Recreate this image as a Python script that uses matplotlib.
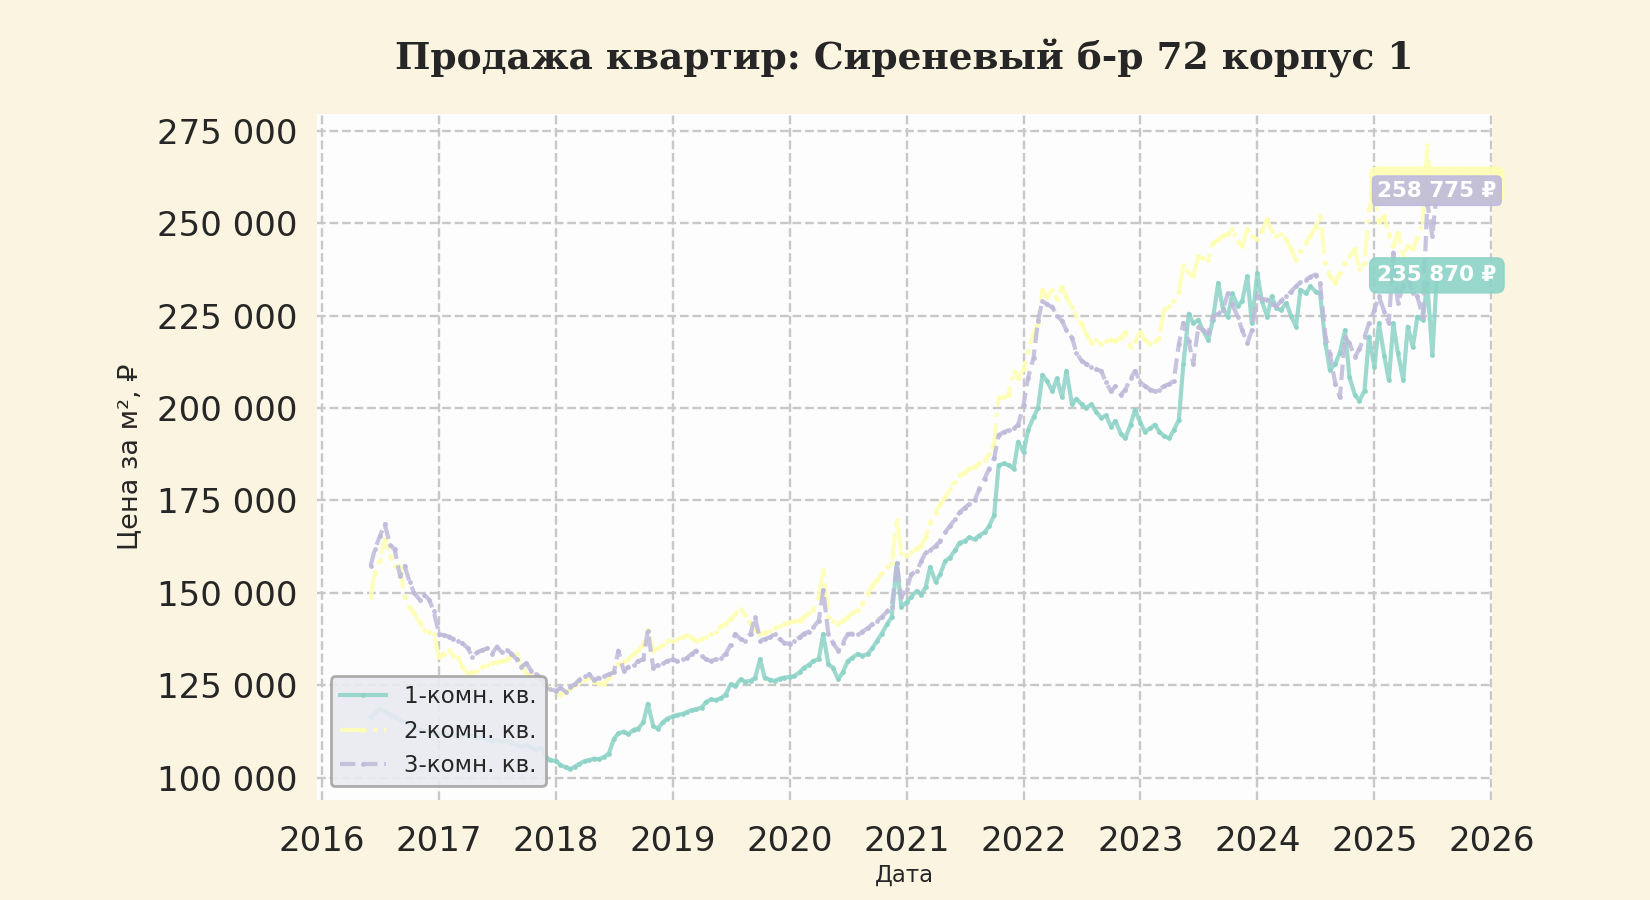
import numpy as np
import pandas as pd
import matplotlib
matplotlib.use('Agg')
import matplotlib.pyplot as plt
import matplotlib.dates as mdates
from matplotlib.ticker import FuncFormatter

# цена за м2, тыс. руб., точки 1-го и 15-го числа каждого месяца
dates = pd.date_range('2016-06-01', periods=220, freq='SMS')

room1 = [
    116.4, 117.5, 118.6, 118.0, 117.0, 116.4, 115.5, 115.0, 114.5, 113.8, 113.0, 112.7, 112.5, 112.0,
    111.8, 112.3, 111.5, 111.8, 111.0, 111.5, 111.8, 111.2, 110.8, 111.0, 110.5, 110.0,
    110.3, 109.8, 110.0, 109.5, 109.0, 108.6, 108.8, 108.2, 107.5, 108.0, 105.5, 104.8,
    104.5, 103.5, 102.8, 102.4, 103.0, 103.8, 104.5, 104.8, 105.2, 105.0, 105.7, 106.5,
    110.5, 112.0, 112.5, 111.8, 113.0, 113.3, 115.0, 120.0, 114.0, 113.3, 115.0, 116.0,
    116.6, 117.0, 117.3, 117.8, 118.3, 118.5, 119.0, 120.5, 121.2, 121.0, 121.6, 122.5,
    125.3, 124.8, 126.6, 126.0, 126.2, 127.0, 132.1, 127.1, 126.5, 126.2, 126.8, 127.1,
    127.3, 127.5, 128.5, 129.8, 130.5, 131.6, 132.1, 138.9, 130.7, 129.8, 126.6, 128.5,
    131.6, 132.5, 133.5, 133.0, 133.5, 135.0, 137.1, 139.0, 141.6, 143.5, 158.0, 146.2,
    147.5, 149.0, 150.5, 149.5, 151.5, 157.0, 153.0, 155.0, 158.6, 159.5, 161.5, 163.6,
    164.0, 165.0, 164.5, 165.5, 166.4, 168.0, 171.0, 184.5, 185.0, 184.5, 183.6, 190.9,
    188.0, 194.0, 197.5, 200.0, 209.0, 207.3, 204.5, 208.0, 203.0, 210.0, 201.0, 202.5,
    201.0, 200.0, 201.0, 199.0, 197.3, 198.0, 195.0, 196.5, 193.0, 191.8, 195.5, 199.5,
    196.0, 193.6, 194.5, 195.5, 193.6, 192.5, 191.8, 194.0, 196.8, 211.8, 225.5, 222.9,
    223.8, 221.0, 218.4, 223.8, 233.8, 227.0, 224.7, 231.0, 227.5, 229.0, 235.6, 222.9,
    236.5, 229.0, 224.7, 230.2, 227.0, 226.5, 228.4, 225.0, 222.0, 232.0, 231.0, 232.9,
    231.5, 231.0, 217.5, 210.2, 212.0, 215.0, 221.0, 208.4, 203.5, 202.0, 204.7, 219.3,
    211.0, 222.9, 214.0, 207.5, 222.9, 215.0, 207.5, 222.0, 216.5, 224.7, 223.8, 233.8, 214.3, 235.87,
]

room2 = [
    149.0, 155.5, 159.0, 164.5, 160.0, 157.3, 157.0, 149.0, 146.0, 144.5, 142.0, 140.0, 139.5, 139.0,
    132.7, 133.5, 134.5, 133.0, 132.7, 130.0, 128.2, 128.5, 129.0, 130.0, 130.5, 131.0,
    131.2, 131.5, 131.8, 133.0, 133.6, 130.5, 128.2, 127.5, 127.0, 126.4, 125.0, 124.0,
    123.6, 122.5, 123.2, 124.0, 125.0, 126.0, 126.5, 127.1, 126.0, 125.5, 125.3, 127.0,
    128.5, 130.7, 131.5, 132.0, 133.5, 134.5, 136.0, 140.0, 134.4, 135.0, 136.0, 137.1,
    137.1, 137.5, 138.0, 138.5, 137.8, 137.1, 137.5, 138.2, 138.9, 139.5, 141.0, 141.6,
    143.0, 144.4, 145.7, 144.0, 141.6, 140.0, 138.9, 139.2, 139.8, 140.5, 141.0, 141.6,
    142.0, 142.3, 142.5, 143.5, 144.5, 145.3, 148.9, 156.2, 143.5, 142.5, 141.6, 142.5,
    143.5, 144.5, 145.3, 147.0, 149.8, 152.0, 153.5, 155.3, 157.0, 158.0, 169.8, 160.7,
    160.0, 161.0, 162.0, 162.7, 165.0, 169.0, 171.5, 174.0, 175.9, 178.0, 180.0, 181.8,
    182.5, 183.6, 184.0, 185.0, 185.9, 187.5, 190.0, 202.7, 203.0, 203.6, 210.0, 208.0,
    210.5, 215.5, 220.0, 222.7, 231.8, 230.0, 231.8, 229.5, 232.7, 230.0, 227.3, 225.0,
    222.7, 220.0, 217.7, 218.5, 217.3, 218.0, 218.5, 218.2, 219.0, 220.5, 216.4, 218.0,
    220.5, 218.5, 217.3, 218.0, 219.0, 226.4, 227.5, 229.0, 231.4, 238.6, 236.5, 235.6,
    241.0, 240.5, 240.0, 244.7, 245.5, 246.5, 247.0, 248.4, 245.0, 243.8, 248.4, 246.5,
    245.6, 248.0, 251.0, 248.0, 246.5, 247.0, 245.6, 243.0, 240.0, 242.5, 244.7, 246.5,
    249.0, 252.0, 239.3, 235.6, 233.8, 236.5, 239.3, 241.0, 242.9, 237.5, 239.3, 253.8,
    258.0, 250.2, 252.0, 247.0, 243.8, 247.4, 241.0, 243.8, 242.9, 246.0, 250.2, 271.0, 255.6, 260.4,
]

room3 = [
    157.3, 162.0, 165.5, 168.6, 163.0, 161.8, 154.5, 157.3, 153.0, 150.0, 148.2, 149.5, 148.2, 145.0,
    139.0, 138.5, 138.2, 137.5, 137.0, 136.4, 135.0, 132.7, 134.0, 134.5, 135.0, 133.5,
    135.5, 134.0, 134.5, 133.6, 132.0, 130.0, 131.0, 129.0, 128.2, 127.0, 124.5, 124.0,
    123.5, 124.4, 123.2, 124.5, 125.3, 126.5, 127.5, 128.0, 126.4, 127.1, 127.5, 128.0,
    128.5, 134.4, 128.9, 130.0, 130.5, 131.6, 132.0, 139.8, 129.8, 130.5, 131.0, 131.6,
    132.0, 131.5, 132.0, 132.5, 133.5, 134.4, 133.0, 132.0, 131.6, 132.0, 132.5, 133.5,
    136.0, 138.9, 137.5, 137.1, 139.0, 143.5, 137.1, 137.5, 138.0, 138.9, 137.5, 136.5,
    136.2, 137.0, 138.0, 139.0, 139.5, 140.7, 142.5, 150.7, 138.9, 136.5, 134.4, 136.5,
    138.9, 139.0, 138.9, 139.5, 140.5, 141.5, 142.5, 143.5, 145.0, 146.2, 158.0, 148.9,
    151.0, 155.0, 156.0, 158.5, 161.0, 161.5, 162.7, 164.0, 166.4, 168.0, 170.0, 171.8,
    173.0, 174.0, 175.0, 178.0, 180.9, 183.5, 186.4, 192.7, 193.5, 194.0, 194.5, 195.5,
    200.9, 208.2, 213.6, 223.6, 229.0, 228.0, 227.3, 225.0, 223.6, 221.0, 219.0, 215.0,
    212.7, 212.0, 211.0, 210.5, 210.0, 207.0, 204.5, 205.9, 203.6, 205.0, 208.0, 210.0,
    207.0, 205.9, 205.0, 204.5, 205.0, 205.9, 206.5, 207.3, 217.3, 223.0, 218.0, 212.0,
    222.0, 221.0, 220.2, 224.7, 225.5, 226.5, 231.0, 228.0, 224.7, 221.0, 217.5, 221.0,
    230.2, 229.5, 229.3, 228.0, 227.5, 229.0, 230.2, 231.5, 232.9, 234.0, 234.7, 235.5,
    236.1, 233.8, 219.3, 214.7, 206.5, 202.9, 219.3, 217.5, 213.8, 216.0, 219.3, 222.9,
    226.5, 230.2, 226.0, 222.9, 242.0, 228.4, 233.0, 235.6, 231.0, 230.2, 224.7, 255.6, 246.5, 258.775,
]

labels = ['1-комн. кв.', '2-комн. кв.', '3-комн. кв.']
colors = ['#8dd3c7', '#ffffb3', '#bebada']
styles = ['-', '-.', '--']
title = 'Продажа квартир: Сиреневый б-р 72 корпус 1'


def fmt_space(v, pos=None):
    return '{:,.0f}'.format(v).replace(',', ' ')


fig = plt.figure(figsize=(16.5, 9), dpi=100, facecolor='#fbf4e1')
ax = fig.add_axes([0.192, 0.111, 0.712, 0.762])
ax.set_facecolor('#fdfdfd')

series = [np.array(room1) * 1000, np.array(room2) * 1000, np.array(room3) * 1000]
for vals, lab, col, ls in zip(series, labels, colors, styles):
    ax.plot(dates, vals, ls, color=col, lw=3.0, alpha=0.85, marker='.', markersize=5, label=lab)

# подписи последних значений
pads = [0.35, 0.35, 0.22]
for vals, col, p in zip(series, colors, pads):
    ax.text(dates[-1], vals[-1], fmt_space(round(vals[-1])) + ' ₽', ha='center', va='center',
            color='white', fontsize=15.5, fontweight='bold', zorder=5, clip_on=False,
            bbox=dict(boxstyle='round,pad=' + str(p), fc=col, ec=col, alpha=0.9))

ax.set_xlim(pd.Timestamp('2015-12-16'), pd.Timestamp('2026-01-02'))
ax.xaxis.set_major_locator(mdates.YearLocator())
ax.xaxis.set_major_formatter(mdates.DateFormatter('%Y'))
ax.yaxis.set_major_formatter(FuncFormatter(fmt_space))
ax.set_yticks(np.arange(100000, 275001, 25000))

ax.grid(True, ls='--', color='#c8c8c8', lw=1.7)
ax.set_axisbelow(True)
for s in ax.spines.values():
    s.set_visible(False)
ax.tick_params(axis='both', length=0, labelsize=24.5, colors='#262626')
ax.tick_params(axis='x', pad=18)
ax.tick_params(axis='y', pad=14)

ax.set_xlabel('Дата', fontsize=16.5, color='#262626', labelpad=4)
ax.set_ylabel('Цена за м², ₽', fontsize=19.5, color='#262626', labelpad=10)
ax.set_title(title, fontsize=27, fontweight='bold', family='DejaVu Serif', color='#262626', pad=32)

leg = ax.legend(loc='lower left', fontsize=16.5, facecolor='#e9ebf1', edgecolor='#a5a5a5',
                framealpha=0.9, borderaxespad=0.6, labelcolor='#262626')
leg.get_frame().set_linewidth(2)

fig.savefig('out.png', dpi=100, facecolor=fig.get_facecolor())
